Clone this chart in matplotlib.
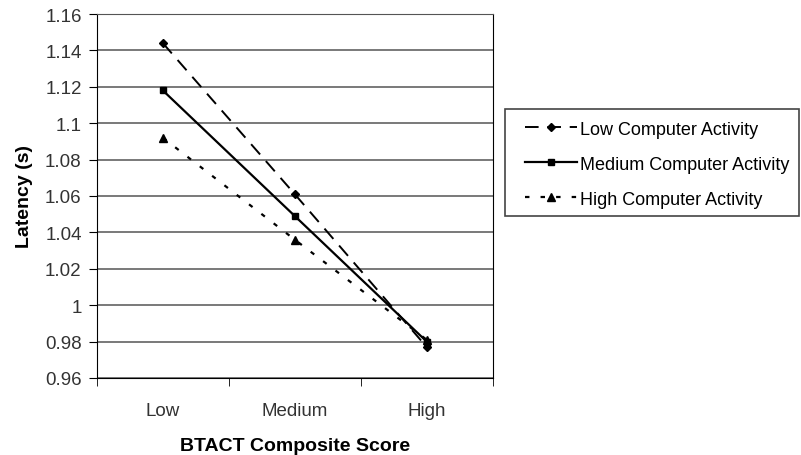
import matplotlib.pyplot as plt
from matplotlib.patches import Rectangle
import numpy as np

plt.rcParams['font.family'] = ['Liberation Sans', 'DejaVu Sans']

# data
categories = ['Low', 'Medium', 'High']
low_activity = [1.144, 1.061, 0.977]
medium_activity = [1.118, 1.049, 0.980]
high_activity = [1.092, 1.036, 0.981]
y_ticks = [0.96, 0.98, 1.0, 1.02, 1.04, 1.06, 1.08, 1.1, 1.12, 1.14, 1.16]
y_tick_labels = ['0.96', '0.98', '1', '1.02', '1.04', '1.06', '1.08', '1.1', '1.12', '1.14', '1.16']

fig = plt.figure(figsize=(8.01, 4.56), dpi=100)
ax = fig.add_axes([0.121, 0.169, 0.494, 0.798])

x = np.arange(len(categories))
ax.plot(x, low_activity, color='black', linestyle=(0, (7, 4.5)), lw=1.4,
        marker='D', markersize=4.5, label='Low Computer Activity')
ax.plot(x, medium_activity, color='black', linestyle='-', lw=1.6,
        marker='s', markersize=5, label='Medium Computer Activity')
ax.plot(x, high_activity, color='black', linestyle=(0, (2, 5)), lw=1.6,
        marker='^', markersize=5.5, label='High Computer Activity')

ax.set_xlim(-0.5, 2.5)
ax.set_ylim(0.96, 1.16)
ax.set_yticks(y_ticks)
ax.set_yticklabels(y_tick_labels)
ax.set_xticks(x)
ax.set_xticklabels(categories)
ax.set_xticks([-0.5, 0.5, 1.5, 2.5], minor=True)
ax.tick_params(axis='x', which='major', length=0, pad=17, labelsize=13.5)
ax.tick_params(axis='x', which='minor', length=6, direction='out')
ax.tick_params(axis='y', length=6, direction='out', labelsize=13.5, pad=5)
for lbl in ax.get_xticklabels() + ax.get_yticklabels():
    lbl.set_color('#333333')
ax.grid(axis='y', color='#555555', lw=1.1)
ax.set_axisbelow(True)
for s in ax.spines.values():
    s.set_color('black')
ax.spines['top'].set_color('#555555')

ax.set_xlabel('BTACT Composite Score', fontsize=14, fontweight='bold', labelpad=13)
ax.set_ylabel('Latency (s)', fontsize=14, fontweight='bold', labelpad=9)

# legend box drawn separately so the handles can sit further in
fig.patches.append(Rectangle((505 / 801, 1 - 217 / 456), 294 / 801, 107 / 456,
                             transform=fig.transFigure, facecolor='white',
                             edgecolor='#444444', lw=1.2, zorder=0))
leg = fig.legend(loc='center left', bbox_to_anchor=(0.655, 0.638), fontsize=13,
                 frameon=False, handlelength=2.9, handletextpad=0.15,
                 labelspacing=1.0, borderpad=0, borderaxespad=0)

fig.savefig('out.png', dpi=100)
